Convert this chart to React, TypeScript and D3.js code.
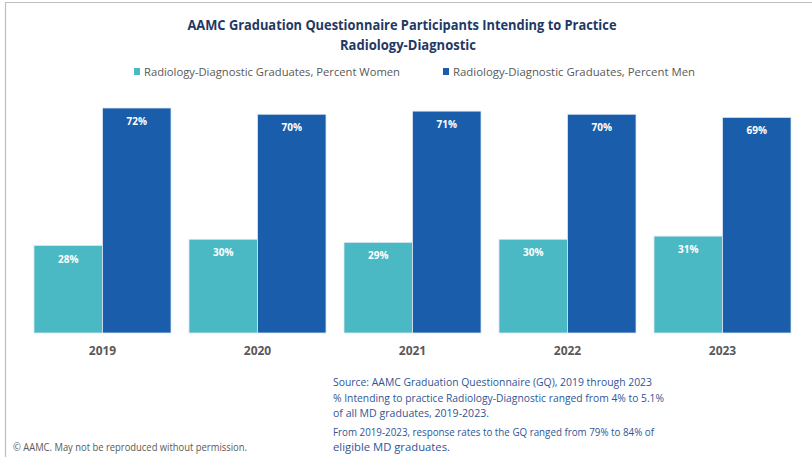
import React from "react"
import * as d3 from "d3"

// chart values
const years = ["2019", "2020", "2021", "2022", "2023"]
const women = [28, 30, 29, 30, 31]
const men = [72, 70, 71, 70, 69]
const seriesNames = [
  "Radiology-Diagnostic Graduates, Percent Women",
  "Radiology-Diagnostic Graduates, Percent Men",
]
const colors = ["#4BB9C4", "#1A5EAB"]
const notes = [
  "Source: AAMC Graduation Questionnaire (GQ), 2019 through 2023",
  "% Intending to practice Radiology-Diagnostic ranged from 4% to 5.1%",
  "of all MD graduates, 2019-2023.",
  "From 2019-2023, response rates to the GQ ranged from 79% to 84% of",
  "eligible MD graduates.",
]

const W = 812
const H = 457
const font = "'Open Sans', 'Liberation Sans', sans-serif"

export default function App() {
  // band for each year, inner band for women / men
  const x = d3.scaleBand().domain(years).range([25, 800]).paddingInner(0.116).paddingOuter(0.058)
  const xs = d3.scaleBand().domain(["w", "m"]).range([0, x.bandwidth()])
  const y = d3.scaleLinear().domain([0, 72]).range([333, 108])

  const rows = years.map((yr, i) => ({ yr, vals: [women[i], men[i]] }))

  return (
    <svg width={W} height={H} style={{ position: "absolute", left: 0, top: 0, background: "#fff" }}>
      {/* frame */}
      <path d={`M5.5,${H} V2.5 H${W}`} fill="none" stroke="#BFBFBF" strokeWidth={1.2} />

      {/* title */}
      <text x={402} y={30} textAnchor="middle" fontFamily={font} fontWeight={700} fontSize={14.5}
        fill="#1F3864" textLength={429} lengthAdjust="spacingAndGlyphs">
        AAMC Graduation Questionnaire Participants Intending to Practice
      </text>
      <text x={408} y={50} textAnchor="middle" fontFamily={font} fontWeight={700} fontSize={14.5}
        fill="#1F3864" textLength={136} lengthAdjust="spacingAndGlyphs">
        Radiology-Diagnostic
      </text>

      {/* legend */}
      {seriesNames.map((s, i) => {
        const lx = i === 0 ? 134 : 443
        const len = i === 0 ? 256 : 242
        return (
          <g key={s}>
            <rect x={lx} y={68} width={6} height={7} fill={colors[i]} />
            <text x={lx + 10} y={76} fontFamily={font} fontSize={11.5} fill="#595959"
              textLength={len} lengthAdjust="spacingAndGlyphs">{s}</text>
          </g>
        )
      })}

      {/* bars */}
      {rows.map(r => (
        <g key={r.yr} transform={`translate(${x(r.yr)},0)`}>
          {r.vals.map((v, j) => {
            const bx = xs(j === 0 ? "w" : "m") as number
            return (
              <g key={j}>
                <rect x={bx} y={y(v)} width={xs.bandwidth()} height={y(0) - y(v)}
                  fill={colors[j]} stroke="#DCE8F4" strokeWidth={0.8} />
                <text x={bx + xs.bandwidth() / 2} y={y(v) + 17} textAnchor="middle"
                  fontFamily={font} fontWeight={700} fontSize={10} fill="#fff">{v}%</text>
              </g>
            )
          })}
          <text x={x.bandwidth() / 2} y={355} textAnchor="middle" fontFamily={font}
            fontWeight={700} fontSize={12} fill="#595959">{r.yr}</text>
        </g>
      ))}

      {/* notes */}
      {notes.map((n, i) => {
        const ny = [386, 402, 417, 436, 451][i]
        const len = [319, 331, 156, 321, 117][i]
        return (
          <text key={i} x={333} y={ny} fontFamily={font} fontSize={11} fill="#2F5597"
            textLength={len} lengthAdjust="spacingAndGlyphs">{n}</text>
        )
      })}

      <text x={13} y={451} fontFamily={font} fontSize={10} fill="#595959"
        textLength={234} lengthAdjust="spacingAndGlyphs">
        © AAMC. May not be reproduced without permission.
      </text>
    </svg>
  )
}
